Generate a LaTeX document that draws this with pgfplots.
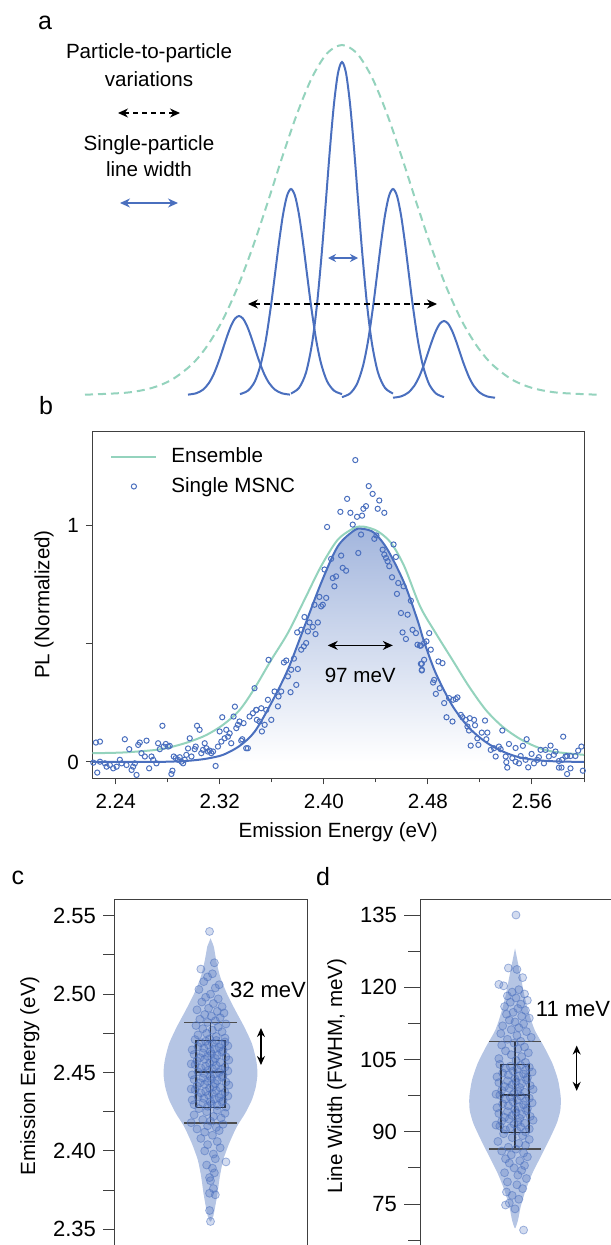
\documentclass[border=0pt]{standalone}
\usepackage{fontspec}
\setmainfont{Liberation Sans}
\usepackage{pgfplots}
\pgfplotsset{compat=1.18}
\usetikzlibrary{arrows.meta}
\definecolor{pblue}{HTML}{4A6FBE}
\definecolor{pgreen}{HTML}{94D3BD}
\definecolor{violin}{HTML}{B5C5E4}
\definecolor{shadeblue}{HTML}{A3B6DD}
\newcommand{\fs}{\fontsize{10.3}{12.4}\selectfont}
\newcommand{\fsl}{\fontsize{11}{13}\selectfont}

\pgfplotsset{
  panel/.style={scale only axis, tick label style={font=\fs, black}, label style={font=\fs},
    axis line style={black!75, line width=0.5pt}, tick style={black!75, line width=0.5pt},
    tick align=outside},
  dots/.style={only marks, mark=*, mark size=2pt,
    mark options={fill=pblue, fill opacity=0.25, draw=pblue, draw opacity=0.5, line width=0.4pt}},
  boxln/.style={black!85, line width=0.7pt},
  lineleg/.style={legend image code/.code={\draw[##1] (0pt,0pt) -- (22.5pt,0pt);}},
  dotleg/.style={legend image code/.code={\draw[##1] plot coordinates {(11.25pt,0pt)};}},
}

\begin{document}
\begin{tikzpicture}

% ---------- a: schematic, coordinates in pixels ----------
\begin{axis}[scale only axis, hide axis, at={(0pt,0pt)}, anchor=north west,
  width=305pt, height=200pt, xmin=0, xmax=610, ymin=0, ymax=400, y dir=reverse, clip=false]
\addplot[pgreen, line width=1pt, dash pattern=on 4pt off 2.5pt, smooth] coordinates {
(85,394.7)(127,392.6)(152,387.9)(172,379.6)(192,364.3)(207,346.2)(222,321.3)(237,288.7)(252,249.2)
(267,204.5)(282,157.8)(297,113.9)(312,77.5)(327,53.4)(342,45)(357,53.4)(372,77.5)(387,113.9)(402,157.8)
(417,204.5)(432,249.2)(447,288.7)(462,321.3)(477,346.2)(492,364.3)(512,379.6)(532,387.9)(557,392.6)(597,394.7)};
\addplot[pblue, line width=1pt, smooth] coordinates {
(188,394.6)(196,393.3)(203,389.7)(209,382.9)(214,373.5)(219,360.6)(223,348.6)(227,336.5)(231,325.9)(235,318.6)(239,316)
(243,318.6)(247,325.9)(251,336.5)(255,348.6)(259,360.6)(264,373.5)(269,382.9)(275,389.7)(282,393.3)(290,394.6)};
\addplot[pblue, line width=1pt, smooth] coordinates {
(240,394.1)(248,390.6)(255,381.1)(261,363.3)(266,339.0)(271,305.4)(275,274.1)(279,242.4)(283,214.7)(287,195.8)(291,189)
(295,195.8)(299,214.7)(303,242.4)(307,274.1)(311,305.4)(316,339.0)(321,363.3)(327,381.1)(334,390.6)(342,394.1)};
\addplot[pblue, line width=1pt, smooth] coordinates {
(291,393.5)(299,387.9)(306,372.6)(312,343.8)(317,304.4)(322,250.1)(326,199.5)(330,148.2)(334,103.6)(338,73.0)(342,62)
(346,73.0)(350,103.6)(354,148.2)(358,199.5)(362,250.1)(367,304.4)(372,343.8)(378,372.6)(385,387.9)(393,393.5)};
\addplot[pblue, line width=1pt, smooth] coordinates {
(342,397.1)(350,393.5)(357,383.9)(363,365.9)(368,341.2)(373,307.1)(377,275.3)(381,243.1)(385,215.1)(389,195.9)(393,189)
(397,195.9)(401,215.1)(405,243.1)(409,275.3)(413,307.1)(418,341.2)(423,365.9)(429,383.9)(436,393.5)(444,397.1)};
\addplot[pblue, line width=1pt, smooth] coordinates {
(393,397.7)(401,396.4)(408,392.8)(414,386.2)(419,377.1)(424,364.5)(428,352.8)(432,340.9)(436,330.6)(440,323.5)(444,321)
(448,323.5)(452,330.6)(456,340.9)(460,352.8)(464,364.5)(469,377.1)(474,386.2)(480,392.8)(487,396.4)(495,397.7)};

\draw[black, line width=0.6pt, dash pattern=on 2.5pt off 2pt, {Stealth[length=5pt,width=4.5pt]}-{Stealth[length=5pt,width=4.5pt]}]
  (axis cs:118,113) -- (axis cs:180,113);
\draw[pblue, line width=0.6pt, {Stealth[length=5pt,width=4.5pt]}-{Stealth[length=5pt,width=4.5pt]}]
  (axis cs:120,203) -- (axis cs:178,203);
\draw[pblue, line width=0.6pt, {Stealth[length=4pt,width=4pt]}-{Stealth[length=4pt,width=4pt]}]
  (axis cs:328,258) -- (axis cs:358,258);
\draw[black, line width=0.6pt, dash pattern=on 3pt off 2pt, {Stealth[length=5pt,width=4.5pt]}-{Stealth[length=5pt,width=4.5pt]}]
  (axis cs:248,304) -- (axis cs:437,304);
\node[font=\fs] at (axis cs:149,53) {Particle-to-particle};
\node[font=\fs] at (axis cs:149,79) {variations};
\node[font=\fs] at (axis cs:149,145) {Single-particle};
\node[font=\fs] at (axis cs:149,169) {line width};
\end{axis}

% ---------- b: PL spectra ----------
\begin{axis}[panel, at={(46.15pt,-389pt)}, anchor=south west, width=245.85pt, height=173.5pt,
  xmin=2.222, xmax=2.60, ymin=-0.068, ymax=1.40,
  xtick={2.24,2.32,2.40,2.48,2.56}, xticklabels={2.24,2.32,2.40,2.48,2.56},
  minor xtick={2.28,2.36,2.44,2.52,2.60},
  ytick={0,0.5,1}, yticklabels={0,,1},
  xtick pos=left, ytick pos=left,
  xticklabel style={yshift=-1.5pt},
  major tick length=3.2pt, minor tick length=2.2pt,
  xlabel={Emission Energy (eV)}, ylabel={PL (Normalized)},
  legend cell align=left,
  legend style={at={(rel axis cs:0.036,0.965)}, anchor=north west, draw=none, fill=none,
    font=\fs, row sep=2pt, inner sep=0pt, nodes={inner sep=2pt},
    /tikz/every odd column/.append style={column sep=5pt}}]
\addplot[draw=none, top color=shadeblue, bottom color=white, forget plot] coordinates {
(2.222,0)(2.27,0)(2.29,0.003)(2.30,0.007)(2.31,0.014)(2.3225,0.03)(2.3353,0.068)(2.3468,0.128)(2.3596,0.249)
(2.3723,0.39)(2.3851,0.573)(2.3979,0.757)(2.4107,0.912)(2.4235,0.98)(2.430,0.986)(2.4388,0.969)(2.449,0.898)
(2.4618,0.757)(2.472,0.60)(2.477,0.51)(2.486,0.376)(2.4988,0.238)(2.5116,0.145)(2.5245,0.084)(2.5372,0.045)
(2.550,0.02)(2.565,0.007)(2.58,0.002)(2.60,0)} \closedcycle;
\addplot[pgreen, line width=1pt, smooth, lineleg] coordinates {
(2.222,0.037)(2.2458,0.040)(2.271,0.051)(2.284,0.065)(2.297,0.086)(2.3097,0.114)(2.3225,0.157)(2.3353,0.22)
(2.3468,0.312)(2.3596,0.432)(2.3723,0.545)(2.3851,0.686)(2.3979,0.828)(2.4107,0.94)(2.4235,0.99)(2.431,0.995)
(2.4413,0.976)(2.4516,0.927)(2.4618,0.828)(2.4740,0.658)(2.486,0.545)(2.4988,0.432)(2.5116,0.319)(2.5245,0.22)
(2.5372,0.15)(2.550,0.10)(2.5628,0.065)(2.5755,0.044)(2.60,0.03)};
\addlegendentry{Ensemble}
\addplot[only marks, mark=o, mark size=1.3pt, mark options={pblue, line width=0.5pt}, dotleg] coordinates {
(2.2248,0.082)(2.2279,0.086)(2.2258,-0.045)(2.2228,-0.003)(2.2279,0.001)(2.2317,-0.006)(2.2330,-0.020)(2.2355,-0.013)
(2.2381,-0.027)(2.2407,-0.020)(2.2432,0.009)(2.2445,-0.006)(2.2470,0.096)(2.2483,-0.013)(2.2504,0.054)(2.2522,-0.034)
(2.2534,-0.020)(2.2547,-0.006)(2.2560,-0.055)(2.2573,0.072)(2.2585,0.082)(2.2598,0.037)(2.2624,0.023)(2.2637,0.090)
(2.2657,-0.027)(2.2675,0.023)(2.2688,0.009)(2.2713,-0.006)(2.2726,0.079)(2.2739,0.054)(2.2759,0.153)(2.2769,0.065)
(2.2785,0.076)(2.2803,0.065)(2.2815,0.068)(2.2828,-0.051)(2.2836,-0.037)(2.2846,0.023)(2.2861,0.016)(2.2879,0.009)
(2.2892,0.020)(2.2905,0.001)(2.2918,-0.006)(2.2930,0.009)(2.2943,0.030)(2.2956,0.057)(2.2969,0.100)(2.2982,0.023)
(2.3007,0.054)(2.3015,0.065)(2.3025,0.153)(2.3045,0.136)(2.3058,0.037)(2.3071,0.051)(2.3084,0.079)(2.3097,0.058)
(2.3109,0.044)(2.3122,0.048)(2.3135,0.037)(2.3148,0.044)(2.3168,-0.017)(2.3186,0.065)(2.3199,0.129)(2.3212,0.086)
(2.3219,0.189)(2.3237,0.100)(2.3250,0.136)(2.3263,0.107)(2.3276,0.121)(2.3288,0.079)(2.3306,0.192)(2.3316,0.234)
(2.3327,0.143)(2.3339,0.157)(2.3352,0.171)(2.3365,0.090)(2.3373,0.096)(2.3383,0.164)(2.3403,0.058)(2.3416,0.058)
(2.3429,0.192)(2.3454,0.206)(2.3467,0.312)(2.3480,0.220)(2.3485,0.178)
(2.4242,1.277)(2.4345,1.167)(2.4375,1.134)(2.4426,1.106)(2.4179,1.113)(2.4127,1.058)(2.4204,1.054)(2.4255,1.037)
(2.4294,1.042)(2.4304,1.071)(2.4324,1.082)(2.4414,1.071)(2.4465,1.054)(2.4025,0.994)(2.4222,1.004)(2.4286,0.962)
(2.4265,0.884)(2.4133,0.873)(2.4056,0.859)(2.4005,0.814)(2.4145,0.821)(2.4171,0.809)(2.4094,0.785)(2.4081,0.743)
(2.4069,0.778)(2.4536,0.920)(2.4554,0.867)(2.4452,0.898)(2.4465,0.877)(2.4490,0.849)(2.4503,0.828)(2.4478,0.863)
(2.4524,0.781)(2.4572,0.757)(2.4613,0.743)(2.4562,0.711)(2.4669,0.682)(2.3979,0.658)(2.4018,0.694)(2.3966,0.698)
(2.3928,0.665)(2.3992,0.665)(2.3851,0.613)(2.3890,0.590)(2.3954,0.590)(2.3915,0.571)(2.3936,0.541)(2.3795,0.548)
(2.3826,0.559)(2.3877,0.552)(2.3864,0.503)(2.3846,0.489)(2.3826,0.475)(2.3770,0.437)(2.3711,0.429)(2.3693,0.421)
(2.3749,0.390)(2.3800,0.393)(2.3724,0.362)(2.3788,0.326)(2.3744,0.295)(2.3575,0.432)(2.3621,0.298)(2.3672,0.298)
(2.3652,0.277)(2.3647,0.235)(2.3596,0.178)(2.3570,0.263)(2.3557,0.220)(2.3519,0.227)(2.3481,0.220)(2.3545,0.157)
(2.3524,0.129)(2.3506,0.171)(2.4593,0.630)(2.4644,0.623)(2.4682,0.559)(2.4708,0.545)(2.4631,0.520)(2.4605,0.548)
(2.4720,0.496)(2.4738,0.492)(2.4746,0.415)(2.4754,0.390)(2.4388,0.944)(2.4404,0.958)
(2.4810,0.545)(2.4789,0.510)(2.4771,0.503)(2.4746,0.492)(2.4822,0.475)(2.4771,0.432)(2.4753,0.415)(2.4753,0.387)
(2.4881,0.425)(2.4912,0.418)(2.4848,0.347)(2.4840,0.336)(2.4891,0.312)(2.4861,0.288)(2.4925,0.249)(2.4963,0.270)
(2.4994,0.263)(2.5014,0.266)(2.5027,0.273)(2.4943,0.189)(2.4989,0.171)(2.5053,0.199)(2.5065,0.189)(2.5091,0.178)
(2.5122,0.185)(2.5155,0.178)(2.5162,0.155)(2.5239,0.175)(2.5104,0.150)(2.5116,0.133)(2.5129,0.069)(2.5180,0.100)
(2.5214,0.124)(2.5188,0.072)(2.5257,0.124)(2.5249,0.096)(2.5372,0.133)(2.5283,0.051)(2.5308,0.058)(2.5346,0.065)
(2.5321,0.023)(2.5359,0.054)(2.5423,0.076)(2.5474,0.059)(2.5530,0.068)(2.5559,0.096)(2.5398,0.023)(2.5403,-0.001)
(2.5410,-0.024)(2.5449,0.016)(2.5474,0.001)(2.5513,0.025)(2.5500,-0.006)(2.5551,0.009)(2.5571,-0.023)(2.5597,0.034)
(2.5615,-0.006)(2.5640,0.009)(2.5666,0.051)(2.5653,0.020)(2.5704,0.051)(2.5743,0.069)(2.5692,-0.006)(2.5730,0.023)
(2.5768,0.030)(2.5781,0.044)(2.5807,0.004)(2.5832,0.009)(2.5840,0.107)(2.5858,0.023)(2.5870,0.025)(2.5896,0.025)
(2.5807,-0.024)(2.5827,-0.024)(2.5870,-0.051)(2.5896,-0.027)(2.5934,0.025)(2.5955,0.048)(2.5980,0.065)(2.5991,-0.037)};
\addlegendentry{Single MSNC}
\addplot[pblue, line width=1pt, smooth, forget plot] coordinates {
(2.222,0)(2.27,0)(2.29,0.003)(2.30,0.007)(2.31,0.014)(2.3225,0.03)(2.3353,0.068)(2.3468,0.128)(2.3596,0.249)
(2.3723,0.39)(2.3851,0.573)(2.3979,0.757)(2.4107,0.912)(2.4235,0.98)(2.430,0.986)(2.4388,0.969)(2.449,0.898)
(2.4618,0.757)(2.472,0.60)(2.477,0.51)(2.486,0.376)(2.4988,0.238)(2.5116,0.145)(2.5245,0.084)(2.5372,0.045)
(2.550,0.02)(2.565,0.007)(2.58,0.002)(2.60,0)};
\draw[black, line width=0.6pt, {Stealth[length=5pt,width=4.5pt]}-{Stealth[length=5pt,width=4.5pt]}]
  (axis cs:2.403,0.493) -- (axis cs:2.453,0.493);
\node[font=\fs] at (axis cs:2.428,0.364) {97 meV};
\end{axis}

% ---------- c: emission energy ----------
\begin{axis}[panel, at={(57pt,-449.5pt)}, anchor=north west, width=96.5pt, height=176.9pt,
  xmin=-1, xmax=1, ymin=2.335, ymax=2.5607, xtick=\empty,
  ytick={2.35,2.40,2.45,2.50,2.55}, yticklabels={2.35,2.40,2.45,2.50,2.55},
  minor ytick={2.375,2.425,2.475,2.525}, ytick pos=left,
  tick label style={font=\fsl},
  major tick length=5.5pt, minor tick length=5.5pt,
  ylabel={Emission Energy (eV)}]
\addplot[fill=violin, draw=none, smooth, tension=0.4] coordinates {
(0,2.5356)(0.0345,2.5302)(0.0587,2.5217)(0.1002,2.5111)(0.1693,2.5005)(0.2556,2.4899)(0.3489,2.4792)
(0.4283,2.4686)(0.4732,2.4580)(0.4870,2.4495)(0.4698,2.4410)(0.4283,2.4325)(0.3592,2.4240)(0.2729,2.4155)
(0.1934,2.4048)(0.1313,2.3942)(0.0967,2.3836)(0.0725,2.3729)(0.0484,2.3644)(0.0276,2.3581)(0,2.3549)
(-0.0276,2.3581)(-0.0484,2.3644)(-0.0725,2.3729)(-0.0967,2.3836)(-0.1313,2.3942)(-0.1934,2.4048)(-0.2729,2.4155)
(-0.3592,2.4240)(-0.4283,2.4325)(-0.4698,2.4410)(-0.4870,2.4495)(-0.4732,2.4580)(-0.4283,2.4686)(-0.3489,2.4792)
(-0.2556,2.4899)(-0.1693,2.5005)(-0.1002,2.5111)(-0.0587,2.5217)(-0.0345,2.5302)} -- cycle;
\addplot[dots] coordinates {
(-0.01,2.540)(0.04,2.520)(-0.10,2.516)(0.02,2.513)(-0.03,2.511)(0.09,2.506)(-0.07,2.508)(-0.12,2.503)(0.05,2.504)
(0.00,2.500)(-0.05,2.498)(0.08,2.497)(-0.09,2.495)(0.03,2.494)(0.12,2.492)(-0.02,2.491)(-0.14,2.490)(0.07,2.489)
(0.14,2.488)(-0.06,2.487)(0.01,2.486)(0.10,2.485)(-0.11,2.484)(0.05,2.483)(-0.03,2.482)(0.16,2.481)(-0.15,2.480)
(0.08,2.479)(-0.08,2.478)(0.02,2.477)(0.12,2.476)(-0.04,2.475)(-0.13,2.474)(0.06,2.473)(0.15,2.472)(-0.01,2.4715)
(-0.16,2.4710)(0.06,2.4705)(-0.05,2.4700)(0.15,2.4695)(-0.10,2.4690)(0.02,2.4685)(0.11,2.4680)(-0.02,2.4675)
(0.18,2.4670)(-0.13,2.4665)(0.09,2.4660)(-0.07,2.4655)(0.04,2.4650)(-0.19,2.4645)(0.13,2.4640)(0.00,2.4635)
(0.12,2.4630)(-0.08,2.4625)(0.01,2.4620)(-0.17,2.4615)(0.07,2.4610)(-0.03,2.4605)(0.16,2.4600)(-0.11,2.4595)
(0.05,2.4590)(-0.06,2.4585)(0.19,2.4580)(-0.14,2.4575)(0.03,2.4570)(0.10,2.4565)(-0.01,2.4560)(-0.20,2.4555)
(-0.16,2.4550)(0.06,2.4545)(-0.05,2.4540)(0.15,2.4535)(-0.10,2.4530)(0.02,2.4525)(0.11,2.4520)(-0.02,2.4515)
(0.18,2.4510)(-0.13,2.4505)(0.09,2.4500)(-0.07,2.4495)(0.04,2.4490)(-0.19,2.4485)(0.13,2.4480)(0.00,2.4475)
(0.12,2.4470)(-0.08,2.4465)(0.01,2.4460)(-0.17,2.4455)(0.07,2.4450)(-0.03,2.4445)(0.16,2.4440)(-0.11,2.4435)
(0.05,2.4430)(-0.06,2.4425)(0.19,2.4420)(-0.14,2.4415)(0.03,2.4410)(0.10,2.4405)(-0.01,2.4400)(-0.20,2.4395)
(-0.16,2.4390)(0.06,2.4385)(-0.05,2.4380)(0.15,2.4375)(-0.10,2.4370)(0.02,2.4365)(0.11,2.4360)(-0.02,2.4355)
(0.18,2.4350)(-0.13,2.4345)(0.09,2.4340)(-0.07,2.4335)(0.04,2.4330)(-0.19,2.4325)(0.13,2.4320)(0.00,2.4315)
(0.12,2.4310)(-0.08,2.4305)(0.01,2.4300)(-0.17,2.4295)(0.07,2.4290)(-0.03,2.4285)(0.16,2.4280)
(-0.12,2.427)(0.07,2.426)(-0.04,2.425)(0.15,2.424)(-0.17,2.423)(0.03,2.422)(0.11,2.421)(-0.08,2.420)(0.00,2.419)
(-0.20,2.418)(0.13,2.417)(-0.03,2.416)(0.06,2.415)(-0.14,2.414)(0.09,2.413)(-0.06,2.412)(0.02,2.410)(-0.10,2.408)
(0.07,2.406)(-0.03,2.404)(0.10,2.402)(-0.06,2.400)(0.03,2.398)(0.05,2.395)(0.16,2.393)(-0.04,2.391)(0.02,2.389)
(0.04,2.386)(-0.01,2.383)(0.00,2.381)(0.03,2.376)(-0.01,2.373)(0.05,2.372)(-0.01,2.362)(0.00,2.355)};
\addplot[boxln] coordinates {(-0.152,2.4278)(0.152,2.4278)(0.152,2.4705)(-0.152,2.4705)(-0.152,2.4278)};
\addplot[boxln] coordinates {(-0.152,2.4503)(0.152,2.4503)};
\addplot[boxln] coordinates {(0,2.4178)(0,2.4820)};
\addplot[boxln, black!70] coordinates {(-0.27,2.4820)(0.27,2.4820)};
\addplot[boxln, black!70] coordinates {(-0.27,2.4178)(0.27,2.4178)};
\draw[black, line width=0.6pt, {Stealth[length=4.5pt,width=4pt]}-{Stealth[length=4.5pt,width=4pt]}]
  (axis cs:0.523,2.4548) -- (axis cs:0.523,2.4784);
\node[font=\fsl] at (axis cs:0.596,2.5026) {32 meV};
\end{axis}

% ---------- d: line width ----------
\begin{axis}[panel, at={(210pt,-449.65pt)}, anchor=north west, width=97.4pt, height=176.45pt,
  xmin=-1, xmax=1.05, ymin=65, ymax=138.26, xtick=\empty,
  ytick={75,90,105,120,135}, yticklabels={75,90,105,120,135},
  minor ytick={67.5,82.5,97.5,112.5,127.5}, ytick pos=left,
  tick label style={font=\fsl},
  major tick length=8pt, minor tick length=6pt,
  ylabel={Line Width (FWHM, meV)}]
\addplot[fill=violin, draw=none, smooth, tension=0.4] coordinates {
(0,128.08)(0.0316,124.97)(0.0667,121.51)(0.1018,118.05)(0.1474,114.59)(0.207,111.13)(0.305,107.67)
(0.393,104.21)(0.4526,100.75)(0.4807,97.29)(0.4772,94.52)(0.4386,91.75)(0.358,88.29)(0.270,84.83)
(0.1825,81.37)(0.1123,77.91)(0.0596,74.45)(0.0316,71.68)(0,69.95)
(-0.0316,71.68)(-0.0596,74.45)(-0.1123,77.91)(-0.1825,81.37)(-0.270,84.83)(-0.358,88.29)(-0.4386,91.75)
(-0.4772,94.52)(-0.4807,97.29)(-0.4526,100.75)(-0.393,104.21)(-0.305,107.67)(-0.207,111.13)(-0.1474,114.59)
(-0.1018,118.05)(-0.0667,121.51)(-0.0316,124.97)} -- cycle;
\addplot[dots] coordinates {
(0.01,135.0)(-0.07,124.0)(0.02,123.7)(0.08,122.0)(-0.17,120.6)(-0.12,120.3)(0.04,119.5)(-0.03,119.0)(0.10,118.6)
(-0.08,118.2)(0.01,117.8)(0.13,117.3)(-0.05,116.9)(0.06,116.5)(-0.11,116.0)(0.03,115.6)(0.11,115.2)(-0.02,114.8)
(-0.09,114.4)(0.07,114.0)(0.15,113.6)(-0.06,113.2)(0.00,112.8)(0.09,112.4)(-0.13,112.0)(0.04,111.6)(-0.04,111.2)
(0.12,110.8)(-0.15,110.4)(0.02,110.0)(0.17,109.6)(-0.08,109.2)(0.06,108.8)(-0.01,108.4)(-0.14,108.0)(0.10,107.6)
(0.03,107.2)(-0.10,106.8)(0.14,106.4)(-0.04,106.0)(0.07,105.6)(-0.17,105.2)(0.01,104.8)(0.11,104.4)
(-0.16,104.0)(0.06,103.8)(-0.05,103.6)(0.15,103.4)(-0.10,103.2)(0.02,103.0)(0.11,102.8)(-0.02,102.6)(0.18,102.4)
(-0.13,102.2)(0.09,102.0)(-0.07,101.8)(0.04,101.6)(-0.19,101.4)(0.13,101.2)(0.00,101.0)
(0.12,100.8)(-0.08,100.6)(0.01,100.4)(-0.17,100.2)(0.07,100.0)(-0.03,99.8)(0.16,99.6)(-0.11,99.4)(0.05,99.2)
(-0.06,99.0)(0.19,98.8)(-0.14,98.6)(0.03,98.4)(0.10,98.2)(-0.01,98.0)(-0.20,97.8)
(-0.16,97.6)(0.06,97.4)(-0.05,97.2)(0.15,97.0)(-0.10,96.8)(0.02,96.6)(0.11,96.4)(-0.02,96.2)(0.18,96.0)
(-0.13,95.8)(0.09,95.6)(-0.07,95.4)(0.04,95.2)(-0.19,95.0)(0.13,94.8)(0.00,94.6)
(0.12,94.4)(-0.08,94.2)(0.01,94.0)(-0.17,93.8)(0.07,93.6)(-0.03,93.4)(0.16,93.2)(-0.11,93.0)(0.05,92.8)
(-0.06,92.6)(0.19,92.4)(-0.14,92.2)(0.03,92.0)(0.10,91.8)(-0.01,91.6)(-0.20,91.4)
(-0.16,91.2)(0.06,91.0)(-0.05,90.8)(0.15,90.6)(-0.10,90.4)(0.02,90.2)(0.11,90.0)
(-0.12,89.6)(0.08,89.2)(-0.03,88.8)(0.15,88.4)(-0.18,88.0)(0.04,87.6)(0.11,87.2)(-0.07,86.8)(0.01,86.4)
(-0.14,86.0)(0.09,85.6)(-0.04,85.2)(0.13,84.8)(-0.10,84.4)(0.05,84.0)(-0.06,83.5)(0.10,83.0)(-0.01,82.5)
(0.07,82.0)(-0.11,81.5)(0.03,81.0)(0.12,80.3)(-0.08,79.6)(0.02,79.0)(0.08,78.2)(-0.09,77.5)(-0.03,76.8)
(0.04,76.0)(-0.06,75.2)(-0.10,74.8)(0.00,74.0)(0.09,69.6)};
\addplot[boxln] coordinates {(-0.149,89.9)(0.149,89.9)(0.149,104.0)(-0.149,104.0)(-0.149,89.9)};
\addplot[boxln] coordinates {(-0.149,97.6)(0.149,97.6)};
\addplot[boxln] coordinates {(0,86.4)(0,108.8)};
\addplot[boxln, black!70] coordinates {(-0.27,108.8)(0.27,108.8)};
\addplot[boxln, black!70] coordinates {(-0.27,86.4)(0.27,86.4)};
\draw[black, line width=0.6pt, {Stealth[length=4.5pt,width=4pt]}-{Stealth[length=4.5pt,width=4pt]}]
  (axis cs:0.649,98.5) -- (axis cs:0.649,107.9);
\node[font=\fsl] at (axis cs:0.61,115.4) {11 meV};
\end{axis}

% panel letters
\node[font=\fontsize{12.5}{15}\selectfont] at (22.5pt,-11.5pt) {a};
\node[font=\fontsize{12.5}{15}\selectfont] at (23pt,-203pt) {b};
\node[font=\fontsize{12.5}{15}\selectfont] at (9pt,-439pt) {c};
\node[font=\fontsize{12.5}{15}\selectfont] at (161.5pt,-438.5pt) {d};

\pgfresetboundingbox
\useasboundingbox (0pt,0pt) rectangle (305pt,-622.5pt);
\end{tikzpicture}
\end{document}
